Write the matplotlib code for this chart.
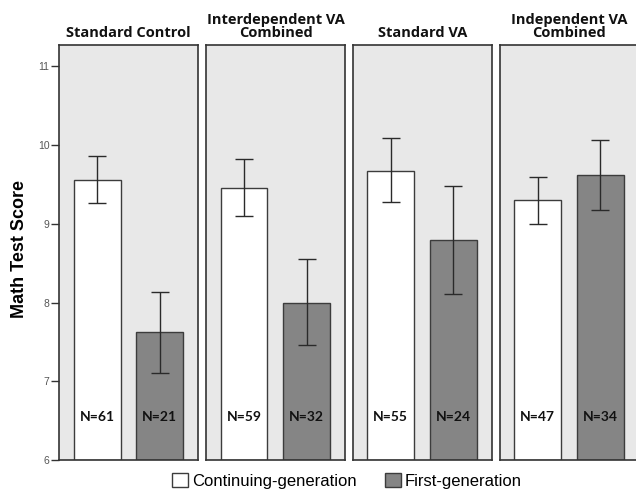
import numpy as np
import matplotlib
matplotlib.use('Agg')
import matplotlib.pyplot as plt
from matplotlib.patches import Patch

# Data
conditions = ['Standard Control', 'Interdependent VA\nCombined',
              'Standard VA', 'Independent VA\nCombined']
cont_mean = [9.56, 9.46, 9.67, 9.30]
cont_low = [9.26, 9.10, 9.27, 9.00]
cont_high = [9.86, 9.82, 10.09, 9.60]
first_mean = [7.63, 8.00, 8.80, 9.62]
first_low = [7.10, 7.46, 8.11, 9.17]
first_high = [8.13, 8.55, 9.48, 10.06]
cont_n = [61, 59, 55, 47]
first_n = [21, 32, 24, 34]
yticks = [6, 7, 8, 9, 10, 11]

panel_bg = '#E8E8E8'
gray_bar = '#858585'
edge = '#3C3C3C'

W, H = 636, 490
fig = plt.figure(figsize=(W / 100, H / 100), dpi=100)

panel_lefts = [59.3 + i * 146.8 for i in range(4)]
panel_w = 139
bottom_px = 460
top_px = 45

axes = []
for i, cond in enumerate(conditions):
    ax = fig.add_axes([panel_lefts[i] / W, (H - bottom_px) / H,
                       panel_w / W, (bottom_px - top_px) / H])
    ax.set_facecolor(panel_bg)
    ax.set_xlim(-0.605, 1.615)
    ax.set_ylim(6, 11.27)

    ax.bar(0, cont_mean[i] - 6, bottom=6, width=0.75, color='white',
           edgecolor=edge, linewidth=1, zorder=2)
    ax.bar(1, first_mean[i] - 6, bottom=6, width=0.75, color=gray_bar,
           edgecolor=edge, linewidth=1, zorder=2)

    ax.errorbar([0, 1], [cont_mean[i], first_mean[i]],
                yerr=[[cont_mean[i] - cont_low[i], first_mean[i] - first_low[i]],
                      [cont_high[i] - cont_mean[i], first_high[i] - first_mean[i]]],
                fmt='none', ecolor='#2A2A2A', elinewidth=1, capsize=6.5,
                capthick=1, zorder=3)

    ax.text(0, 6.55, f'N={cont_n[i]}', ha='center', va='center',
            fontsize=10, fontweight='bold', family='Lato', color='#111111', zorder=4)
    ax.text(1, 6.55, f'N={first_n[i]}', ha='center', va='center',
            fontsize=10, fontweight='bold', family='Lato', color='#111111', zorder=4)

    ax.set_title(cond, fontsize=10.5, fontweight='bold', family='Open Sans',
                 pad=6, linespacing=0.92, color='#111111')

    for sp in ax.spines.values():
        sp.set_color('#333333')
        sp.set_linewidth(1.2)
    ax.set_xticks([])
    if i == 0:
        ax.set_yticks(yticks)
        ax.tick_params(axis='y', length=6, width=1, color='#333333',
                       labelsize=7.5, labelcolor='#555555', pad=1)
        for lbl in ax.get_yticklabels():
            lbl.set_family('Liberation Sans')
    else:
        ax.set_yticks([])
    axes.append(ax)

fig.text(19.5 / W, 0.5 - ((249 - 245) / H), 'Math Test Score', rotation=90,
         ha='center', va='center', fontsize=13, fontweight='bold',
         family='Liberation Sans')

handles = [Patch(facecolor='white', edgecolor=edge, linewidth=1),
           Patch(facecolor=gray_bar, edgecolor=edge, linewidth=1)]
fig.legend(handles, ['Continuing-generation', 'First-generation'],
           loc='center', bbox_to_anchor=(347 / W, 9 / H), ncol=2,
           frameon=False, prop={'family': 'Liberation Sans', 'size': 12},
           handlelength=0.95, handleheight=0.9, handletextpad=0.25,
           columnspacing=1.7, borderpad=0)

fig.savefig('out.png', dpi=100)
